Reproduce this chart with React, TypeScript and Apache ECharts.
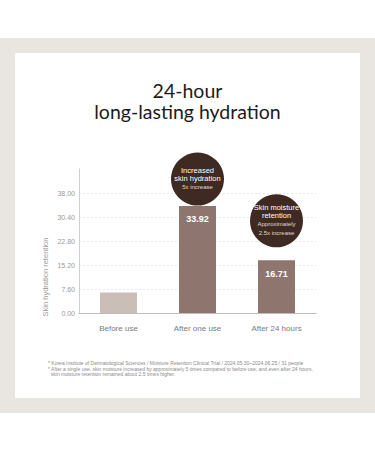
import React, { useEffect, useRef } from "react";
import * as echarts from "echarts";

const categories = ["Before use", "After one use", "After 24 hours"];
const values = [6.5, 33.92, 16.71];
const valueLabelShown = [false, true, true];
const yMax = 45.6;
const yInterval = 7.6;
const titleLines = ["24-hour", "long-lasting hydration"];
const yAxisName = "Skin hydration retention";
const callout1 = { cat: 1, value: 42.4, lines: ["Increased", "skin hydration"], sub: ["5x increase"] };
const callout2 = { cat: 2, value: 29.2, lines: ["Skin moisture", "retention"], sub: ["Approximately", "2.5x increase"] };
const footnotes = [
  "* Korea Institute of Dermatological Sciences / Moisture Retention Clinical Trial / 2024.05.30~2024.06.25 / 31 people",
  "* After a single use, skin moisture increased by approximately 5 times compared to before use, and even after 24 hours,",
  "  skin moisture retention remained about 2.5 times higher.",
];

const FONT = "'Liberation Sans', Arial, sans-serif";

export default function App() {
  const ref = useRef<HTMLDivElement>(null);
  useEffect(() => {
    if (!ref.current) return;
    const chart = echarts.init(ref.current, null, { renderer: "svg" });
    const calloutData = [callout1, callout2].map((c) => ({
      coord: [c.cat, c.value],
      label: {
        formatter: [
          ...c.lines.map((l) => `{a|${l}}`),
          ...c.sub.map((l) => `{b|${l}}`),
        ].join("\n"),
      },
    }));
    chart.setOption({
      animation: false,
      backgroundColor: "#ffffff",
      grid: { left: 79, right: 59, top: 169, bottom: 137 },
      xAxis: {
        type: "category",
        data: categories,
        axisLine: { lineStyle: { color: "#bdbdbd", width: 1 } },
        axisTick: { show: false },
        axisLabel: { color: "#7a7a7a", fontSize: 8, margin: 11, fontFamily: FONT },
      },
      yAxis: {
        type: "value",
        min: 0,
        max: yMax,
        interval: yInterval,
        axisLine: { show: true, lineStyle: { color: "#cfcfcf", width: 1 } },
        axisTick: { show: false },
        axisLabel: {
          color: "#9a9a9a",
          fontSize: 7,
          margin: 4,
          fontFamily: FONT,
          showMaxLabel: false,
          formatter: (v: number) => v.toFixed(2),
        },
        splitLine: {
          show: true,
          lineStyle: {
            type: [2, 2],
            color: ["#e8e8e8", "#e8e8e8", "#e8e8e8", "#e8e8e8", "#e8e8e8", "#e8e8e8", "rgba(0,0,0,0)"],
          },
        },
      },
      graphic: [
        { type: "rect", z: -10, shape: { x: 0, y: 38, width: 375, height: 375 }, style: { fill: "#e9e5e0" } },
        { type: "rect", z: -9, shape: { x: 15, y: 53, width: 345, height: 345 }, style: { fill: "#ffffff" } },
        ...titleLines.map((t, i) => ({
          type: "text",
          x: 187.5,
          y: [90.5, 111.5][i],
          style: {
            text: t,
            fill: "#1b1b1b",
            fontSize: 19.5,
            fontFamily: "Lato, 'Open Sans', sans-serif",
            align: "center",
            verticalAlign: "middle",
          },
        })),
        {
          type: "text",
          x: 45,
          y: 277,
          rotation: Math.PI / 2,
          style: {
            text: yAxisName,
            fill: "#9a9a9a",
            fontSize: 7.5,
            fontFamily: FONT,
            align: "center",
            verticalAlign: "middle",
          },
        },
        ...footnotes.map((t, i) => ({
          type: "text",
          x: 48,
          y: [363, 369, 374][i],
          style: {
            text: t,
            fill: "#8a8a8a",
            fontSize: 5,
            fontFamily: FONT,
            align: "left",
            verticalAlign: "middle",
          },
        })),
      ],
      series: [
        {
          type: "bar",
          barWidth: 37,
          data: values.map((v, i) => ({
            value: v,
            itemStyle: { color: i === 0 ? "#cbbdb8" : "#8e766f" },
            label: {
              show: valueLabelShown[i],
              position: "insideTop",
              distance: 9,
              color: "#ffffff",
              fontSize: 9,
              fontWeight: "bold",
              fontFamily: FONT,
            },
          })),
          markPoint: {
            symbol: "circle",
            symbolSize: 53,
            itemStyle: { color: "#3e2a22" },
            label: {
              show: true,
              position: "inside",
              fontWeight: "normal",
              color: "#ffffff",
              rich: {
                a: { color: "#ffffff", fontSize: 7.5, lineHeight: 8, fontWeight: "normal", fontFamily: FONT, align: "center" },
                b: { color: "#e4d9d2", fontSize: 6, lineHeight: 9, fontWeight: "normal", fontFamily: FONT, align: "center" },
              },
            },
            data: calloutData,
          },
        },
      ],
    });
    return () => chart.dispose();
  }, []);
  return (
    <div
      ref={ref}
      style={{ position: "fixed", left: 0, top: 0, width: 375, height: 450 }}
    />
  );
}
